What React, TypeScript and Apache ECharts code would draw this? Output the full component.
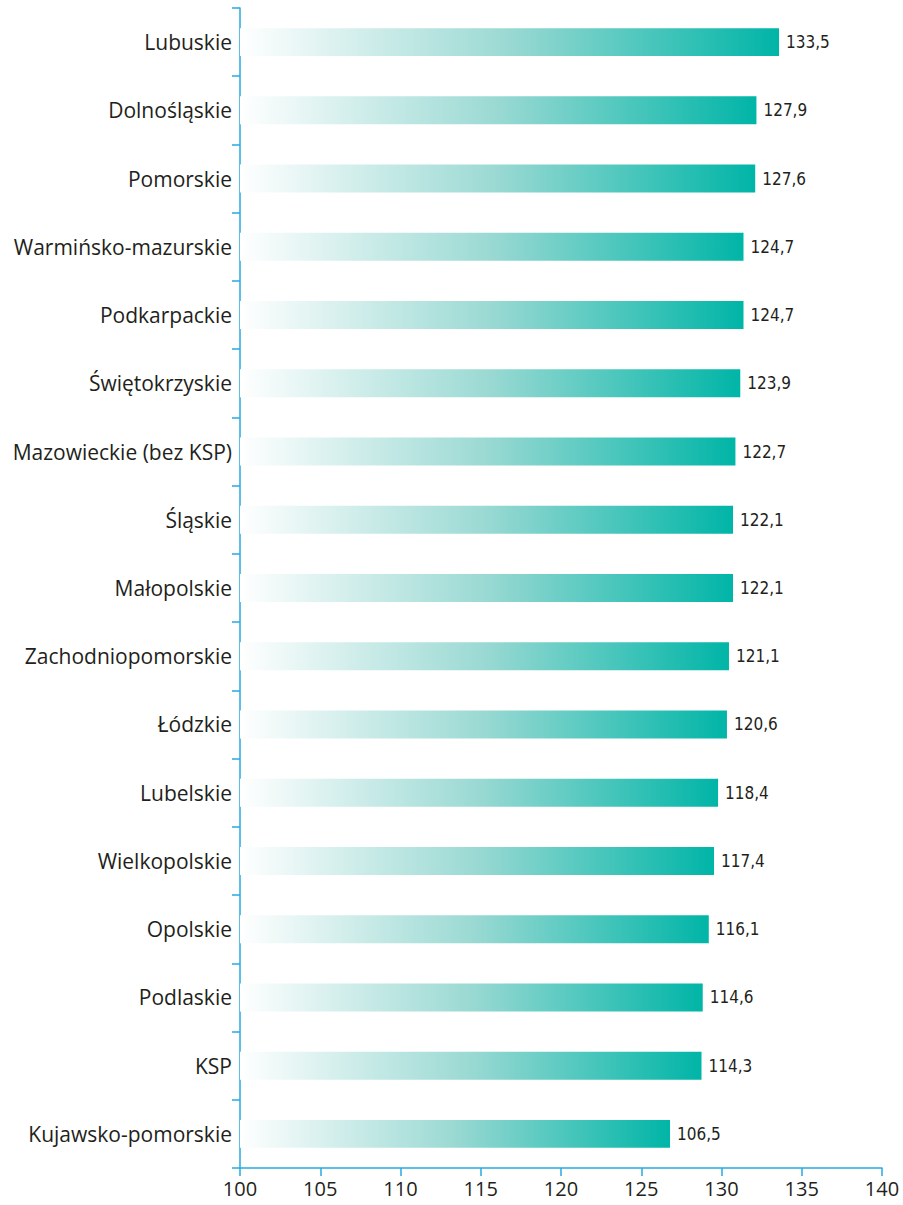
import React, { useEffect, useRef } from "react";
import * as echarts from "echarts";

const categories = [
  "Lubuskie",
  "Dolnośląskie",
  "Pomorskie",
  "Warmińsko-mazurskie",
  "Podkarpackie",
  "Świętokrzyskie",
  "Mazowieckie (bez KSP)",
  "Śląskie",
  "Małopolskie",
  "Zachodniopomorskie",
  "Łódzkie",
  "Lubelskie",
  "Wielkopolskie",
  "Opolskie",
  "Podlaskie",
  "KSP",
  "Kujawsko-pomorskie",
];

const values = [
  133.5, 127.9, 127.6, 124.7, 124.7, 123.9, 122.7, 122.1, 122.1, 121.1, 120.6,
  118.4, 117.4, 116.1, 114.6, 114.3, 106.5,
];

// visible axis (as printed in the source)
const xMin = 100;
const xMax = 140;
const xStep = 5;

// the bars in the source are drawn from zero on a separate scale
const barScaleMin = 0;
const barScaleMax = 159;

const AXIS_COLOR = "#27aae1";
const TEXT_COLOR = "#231f20";

export default function App() {
  const ref = useRef<HTMLDivElement>(null);
  useEffect(() => {
    if (!ref.current) return;
    const chart = echarts.init(ref.current, undefined, { renderer: "svg" });
    chart.setOption({
      animation: false,
      backgroundColor: "#ffffff",
      grid: { left: 240, right: 21, top: 8, bottom: 37, containLabel: false },
      xAxis: [
        {
          type: "value",
          min: xMin,
          max: xMax,
          interval: xStep,
          splitLine: { show: false },
          axisLine: { show: true, lineStyle: { color: AXIS_COLOR, width: 1.5 } },
          axisTick: { show: true, length: 8, lineStyle: { color: AXIS_COLOR, width: 1.5 } },
          axisLabel: {
            color: TEXT_COLOR,
            fontSize: 20,
            fontFamily: "Open Sans",
            margin: 10,
          },
        },
        {
          type: "value",
          min: barScaleMin,
          max: barScaleMax,
          show: false,
          position: "bottom",
          splitLine: { show: false },
        },
      ],
      yAxis: {
        type: "category",
        data: categories,
        inverse: true,
        boundaryGap: true,
        axisLine: { show: true, lineStyle: { color: AXIS_COLOR, width: 1.5 } },
        axisTick: {
          show: true,
          length: 8,
          alignWithLabel: false,
          lineStyle: { color: AXIS_COLOR, width: 1.5 },
        },
        axisLabel: {
          color: TEXT_COLOR,
          fontSize: 21,
          fontFamily: "Open Sans",
          margin: 8,
        },
      },
      series: [
        {
          type: "bar",
          xAxisIndex: 1,
          data: values,
          barWidth: "41%",
          itemStyle: {
            color: new echarts.graphic.LinearGradient(0, 0, 1, 0, [
              { offset: 0, color: "#ffffff" },
              { offset: 0.5, color: "#9ad9d3" },
              { offset: 1, color: "#00b5a7" },
            ]),
          },
          label: {
            show: true,
            position: "right",
            distance: 7,
            color: TEXT_COLOR,
            fontSize: 17,
            fontFamily: "DejaVu Sans Condensed",
            formatter: (p: any) => Number(p.value).toFixed(1).replace(".", ","),
          },
        },
      ],
    });
    return () => chart.dispose();
  }, []);
  return (
    <div
      ref={ref}
      style={{ position: "absolute", left: 0, top: 0, width: 903, height: 1205 }}
    />
  );
}
